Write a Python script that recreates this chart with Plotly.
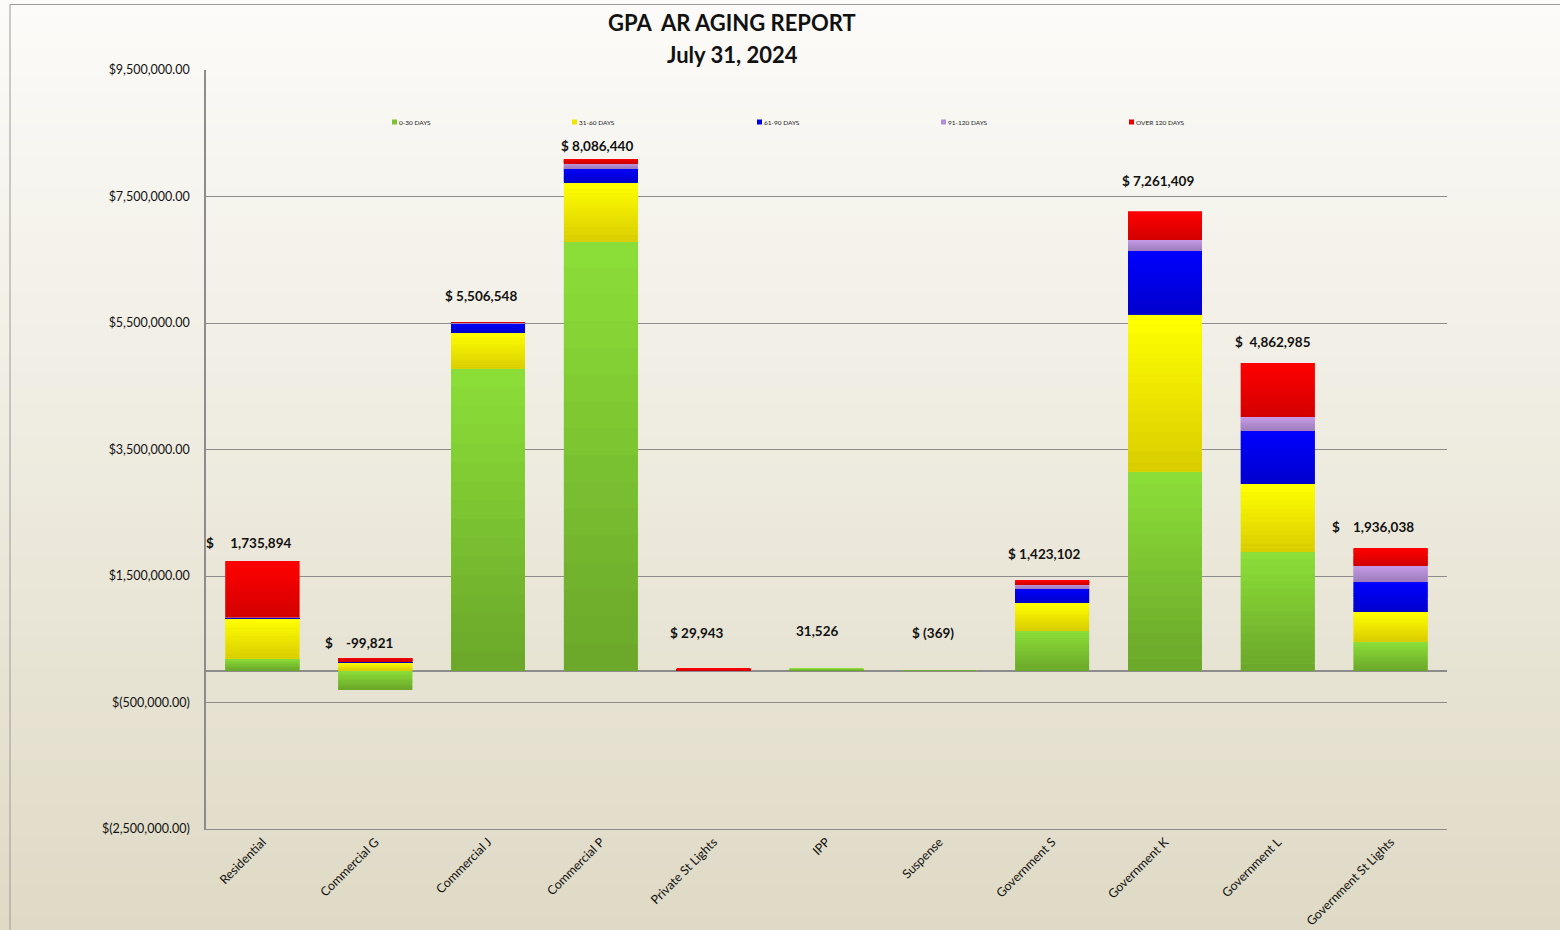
import plotly.graph_objects as go

categories = ["Residential", "Commercial G", "Commercial J", "Commercial P", "Private St Lights",
              "IPP", "Suspense", "Government S", "Government K", "Government L", "Government St Lights"]

days_0_30 = [190000, -300000, 4775000, 6780000, 0, 31526, -369, 632000, 3150000, 1880000, 458000]
days_31_60 = [640000, 125000, 570000, 944000, 0, 0, 0, 443000, 2480000, 1075000, 474000]
days_61_90 = [12000, 25000, 150000, 221000, 0, 0, 0, 222000, 1012000, 838000, 474000]
days_91_120 = [5000, 5000, 5000, 84000, 0, 0, 0, 68000, 174000, 221000, 253000]
days_over_120 = [888894, 45179, 6548, 57440, 29943, 0, 0, 58102, 445409, 848985, 277038]

series_names = ["0-30 DAYS", "31-60 DAYS", "61-90 DAYS", "91-120 DAYS", "OVER 120 DAYS"]
series_values = [days_0_30, days_31_60, days_61_90, days_91_120, days_over_120]
series_colors = ["#7CC433", "#EEE800", "#0000E6", "#B28ED6", "#EA0000"]
# gradient (top colour, bottom colour) per series
series_grad = [((139, 222, 56), (108, 168, 42)),
               ((255, 255, 0), (218, 206, 0)),
               ((0, 0, 255), (0, 0, 205)),
               ((200, 156, 232), (158, 126, 190)),
               ((255, 0, 0), (212, 0, 0))]

total_labels = ["$\u00a0\u00a0\u00a0\u00a0\u00a01,735,894", "$\u00a0\u00a0\u00a0\u00a0-99,821", "$ 5,506,548",
                "$ 8,086,440", "$ 29,943", "31,526", "$ (369)", "$ 1,423,102", "$ 7,261,409",
                "$\u00a0\u00a04,862,985", "$\u00a0\u00a0\u00a0\u00a01,936,038"]
label_xshift = [-13, -16, -7, -4, -17, -10, -6, -8, -7, -5, -18]
label_yshift = [18, 15, 27, 13, 36, 38, 38, 27, 31, 21, 21]

y_tickvals = [9500000, 7500000, 5500000, 3500000, 1500000, -500000, -2500000]
y_ticktext = ["$9,500,000.00", "$7,500,000.00", "$5,500,000.00", "$3,500,000.00",
              "$1,500,000.00", "$(500,000.00)", "$(2,500,000.00)"]

title_lines = ["GPA\u00a0\u00a0AR AGING REPORT", "July 31, 2024"]

W, H = 1560, 930
ML, MR, MT, MB = 206, 113, 70, 101
PW, PH = W - ML - MR, H - MT - MB
BAR_W = 0.655
N_SLICES = 16

def px2paper_x(px):
    return (px - ML) / PW

def px2paper_y(py):
    return (H - MB - py) / PH

# stacking bases (positives stack up, negatives stack down)
n = len(categories)
pos_acc = [0.0] * n
neg_acc = [0.0] * n
series_bases = []
for vals in series_values:
    b = []
    for i, v in enumerate(vals):
        if v >= 0:
            b.append(pos_acc[i]); pos_acc[i] += v
        else:
            b.append(neg_acc[i]); neg_acc[i] += v
    series_bases.append(b)

fig = go.Figure()
for name, vals, bases, col, (ctop, cbot) in zip(series_names, series_values, series_bases,
                                                series_colors, series_grad):
    fig.add_trace(go.Bar(x=categories, y=vals, base=bases, name=name,
                         marker=dict(color=col, line=dict(width=0)), width=BAR_W, showlegend=False))
    # gradient shading slices over the segment (light at top, darker at bottom)
    for k in range(N_SLICES):
        t = k / (N_SLICES - 1)
        c = tuple(int(round(ctop[j] + (cbot[j] - ctop[j]) * t)) for j in range(3))
        sb, sy = [], []
        for v, b in zip(vals, bases):
            hi = max(b, b + v)
            lo = min(b, b + v)
            h = (hi - lo) / N_SLICES
            sb.append(hi - (k + 1) * h)
            sy.append(h * 1.05 if k < N_SLICES - 1 else h)
        fig.add_trace(go.Bar(x=categories, y=sy, base=sb, marker=dict(color="rgb(%d,%d,%d)" % c,
                             line=dict(width=0)), width=BAR_W, showlegend=False, hoverinfo="skip"))

# total labels anchored at top of positive stack
for i, cat in enumerate(categories):
    fig.add_annotation(x=cat, y=pos_acc[i], xref="x", yref="y", text=total_labels[i], showarrow=False,
                       xshift=label_xshift[i], yshift=label_yshift[i], yanchor="middle",
                       font=dict(family="Lato", size=13.5, color="#111111", weight="bold"))

# legend (small swatches with adjacent text)
legend_px = [392, 572, 757, 941, 1129]
legend_y = 122
for name, col, lx in zip(series_names, series_colors, legend_px):
    fig.add_shape(type="rect", xref="paper", yref="paper",
                  x0=px2paper_x(lx), x1=px2paper_x(lx + 5), y0=px2paper_y(legend_y + 2.5),
                  y1=px2paper_y(legend_y - 2.5), fillcolor=col, line=dict(width=0))
    fig.add_annotation(xref="paper", yref="paper", x=px2paper_x(lx + 5), y=px2paper_y(legend_y),
                       xanchor="left", yanchor="middle", text=name, showarrow=False,
                       font=dict(family="Lato", size=6.5, color="#222222"))

# title
for txt, ty in zip(title_lines, [23, 54]):
    fig.add_annotation(xref="paper", yref="paper", x=px2paper_x(732), y=px2paper_y(ty),
                       xanchor="center", yanchor="middle", text=txt, showarrow=False,
                       font=dict(family="Lato", size=22, color="#111111", weight="bold"))

# gradient background bands
nb = 60
top_rgb = (252, 251, 249)
bot_rgb = (223, 218, 197)
for k in range(nb):
    t = (k + 0.5) / nb
    c = tuple(int(round(top_rgb[j] + (bot_rgb[j] - top_rgb[j]) * t)) for j in range(3))
    y0 = k * H / nb
    y1 = (k + 1) * H / nb + 1
    fig.add_shape(type="rect", xref="paper", yref="paper",
                  x0=px2paper_x(0), x1=px2paper_x(W), y0=px2paper_y(y1), y1=px2paper_y(y0),
                  fillcolor="rgb(%d,%d,%d)" % c, line=dict(width=0), layer="below")

# outer border
fig.add_shape(type="rect", xref="paper", yref="paper",
              x0=px2paper_x(10), x1=px2paper_x(W + 5), y0=px2paper_y(H + 5), y1=px2paper_y(4.5),
              line=dict(color="#9A9A9A", width=1), fillcolor="rgba(0,0,0,0)", layer="above")

fig.update_layout(
    width=W, height=H,
    margin=dict(l=ML, r=MR, t=MT, b=MB, pad=0),
    barmode="overlay",
    paper_bgcolor="#F2F0E8",
    plot_bgcolor="rgba(0,0,0,0)",
    font=dict(family="Lato", color="#111111"),
    showlegend=False,
    xaxis=dict(range=[-0.5, 10.5], tickangle=-45, tickfont=dict(family="Lato", size=12.4, color="#111111"),
               showline=True, linecolor="#8C8C8C", linewidth=1, showgrid=False, ticks="", zeroline=False,
               automargin=False),
    yaxis=dict(range=[-2500000, 9500000], tickvals=y_tickvals, ticktext=y_ticktext,
               tickfont=dict(family="Lato", size=12.5, color="#111111"),
               showgrid=True, gridcolor="#8C8C8C", gridwidth=1, zeroline=True, zerolinecolor="#8C8C8C",
               zerolinewidth=1.5, showline=True, linecolor="#8C8C8C", linewidth=1.5, ticks="",
               ticklabelstandoff=12, automargin=False),
)

fig.write_html("out.html", config={"displayModeBar": False},
               post_script="document.body.style.margin='0';document.body.style.overflow='hidden';")
